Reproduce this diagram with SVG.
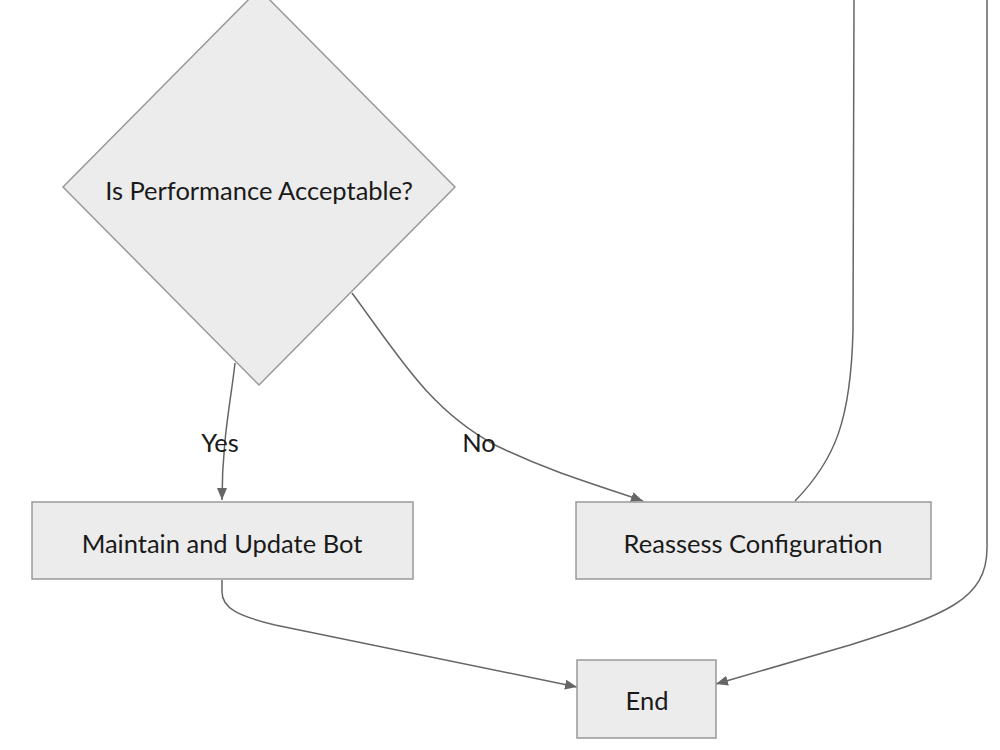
<svg xmlns="http://www.w3.org/2000/svg" width="1000" height="750" viewBox="0 0 1000 750">
<defs>
<marker id="arrow" viewBox="0 0 12 10" refX="12" refY="5" markerWidth="12" markerHeight="10" markerUnits="userSpaceOnUse" orient="auto">
<path d="M0,0 L12,5 L0,10 z" fill="#666"/>
</marker>
</defs>
<style>
.node{fill:#ECECEC;stroke:#999;stroke-width:1.5}
.lbl{font-family:Lato,"Open Sans",sans-serif;font-size:25.5px;fill:#1a1a1a;text-anchor:middle;dominant-baseline:central}
.edge{fill:none;stroke:#666;stroke-width:1.5}
</style>
<rect width="1000" height="750" fill="#ffffff"/>
<g id="connectors">
<path class="edge" d="M235,363 C231,400 222,440 222,500" marker-end="url(#arrow)"/>
<path class="edge" d="M352,293 C400,358 430,410 495,445 C550,472 600,486 643,501" marker-end="url(#arrow)"/>
<path class="edge" d="M795,501 C835,460 851,420 853,330 L854,0"/>
<path class="edge" d="M987,0 L987,548 C987,600 945,615 850,645 L716,684" marker-end="url(#arrow)"/>
<path class="edge" d="M222,580 L222,592 C222,608 238,616 275,625 L577,687" marker-end="url(#arrow)"/>
<text class="lbl" x="220" y="442">Yes</text>
<text class="lbl" x="479" y="442">No</text>
</g>
<g id="decision">
<polygon class="node" points="259,-11 455,187 259,385 63,187"/>
<text class="lbl" x="259" y="190">Is Performance Acceptable?</text>
</g>
<g id="maintain">
<rect class="node" x="32" y="502" width="381" height="77"/>
<text class="lbl" x="222" y="543">Maintain and Update Bot</text>
</g>
<g id="reassess">
<rect class="node" x="576" y="502" width="355" height="77"/>
<text class="lbl" x="753" y="543">Reassess Configuration</text>
</g>
<g id="end">
<rect class="node" x="577" y="660" width="139" height="78"/>
<text class="lbl" x="647" y="700">End</text>
</g>
</svg>
